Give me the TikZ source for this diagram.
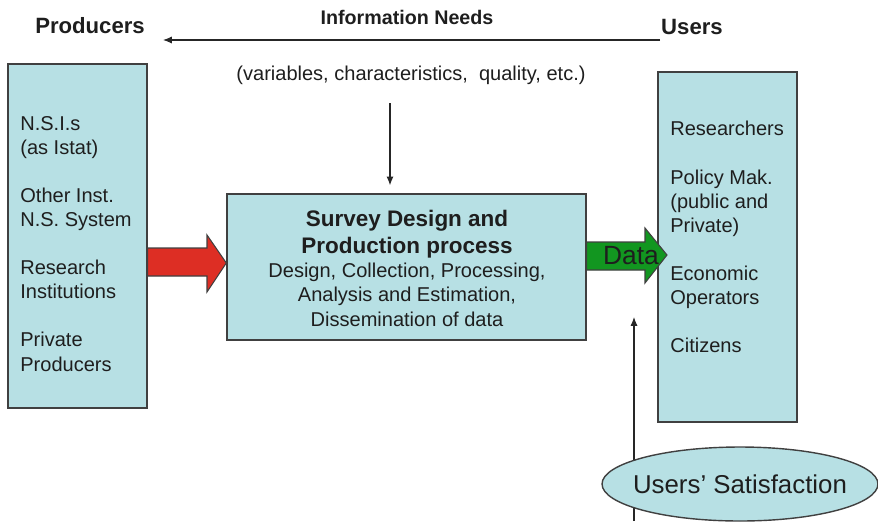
\documentclass[tikz,border=0pt]{standalone}
\usepackage{fontspec}
\setmainfont{Liberation Sans}
\usepackage{xcolor}
\usetikzlibrary{positioning,calc,shapes,arrows.meta}
\definecolor{boxblue}{RGB}{183,224,228}
\definecolor{boxline}{RGB}{64,64,64}
\definecolor{redarrow}{RGB}{221,46,36}
\definecolor{greenarrow}{RGB}{18,150,32}
\definecolor{inkgray}{RGB}{30,30,30}
\tikzset{
	actorbox/.style={draw=boxline, fill=boxblue, line width=0.8pt, minimum width=2.78cm, inner sep=0pt},
	listtext/.style={align=left, anchor=north west, inner sep=0pt, font=\fontsize{11.4}{13.7}\selectfont, text=inkgray},
	headtext/.style={font=\fontsize{12.6}{15}\selectfont\bfseries, text=inkgray, inner sep=0pt},
	thinarrow/.style={draw=black!85, line width=0.6pt, -{Latex[length=5pt,width=4pt]}},
	blockarrow/.style={draw=boxline, line width=0.6pt, line join=miter}
}

\begin{document}
\begin{tikzpicture}[x=0.02cm, y=-0.02cm]
			\useasboundingbox (0,0) rectangle (878,521);
			\node[headtext] (producers) at (90,26) {Producers};
			\node[headtext] (users) at (692,27) {Users};
			\node[headtext, font=\fontsize{11.2}{13}\selectfont\bfseries] (needs) at (407,17) {Information Needs};
			\node[listtext, anchor=center] (needsdetail) at (411,75) {(variables, characteristics,\ \ quality, etc.)};
			\coordinate (needsR) at (660,40);
			\coordinate (needsL) at (163,40);
			\draw[thinarrow] (needsR) -- (needsL);
			\node[actorbox, minimum height=6.88cm] (prod) at (77.5,236) {};
			\node[actorbox, minimum height=7.0cm] (user) at (727.5,247) {};
			\node[actorbox, minimum width=7.18cm, minimum height=2.92cm] (proc) at (406.5,267) {};
			\node[listtext] (prodlist) at (20,116) {N.S.I.s\\(as Istat)\\[13.7pt]Other Inst.\\N.S. System\\[13.7pt]Research\\Institutions\\[13.7pt]Private\\Producers};
			\node[listtext] (userlist) at (670,121) {Researchers\\[13.7pt]Policy Mak.\\(public and\\Private)\\[13.7pt]Economic\\Operators\\[13.7pt]Citizens};
			\node[headtext, font=\fontsize{12.8}{15.4}\selectfont\bfseries, align=center, anchor=north] (proctitle) at (407,210) {Survey Design and\\Production process};
			\node[listtext, align=center, anchor=north] (procbody) at (407,263) {Design, Collection, Processing,\\Analysis and Estimation,\\Dissemination of data};
			\draw[thinarrow] ($(proc.north)+(-16.5,-90)$) -- ($(proc.north)+(-16.5,-8)$);
			\filldraw[blockarrow, fill=redarrow] (prod.east |- 0,248) -- (207,248) -- (207,235) -- (proc.west |- 0,263) -- (207,292) -- (207,276) -- (prod.east |- 0,276) -- cycle;
			\filldraw[blockarrow, fill=greenarrow] (proc.east |- 0,242) -- (645,242) -- (645,228) -- (667,255) -- (645,283) -- (645,270) -- (proc.east |- 0,270) -- cycle;
			\node[font=\fontsize{15}{18}\selectfont, text=inkgray, inner sep=0pt] (data) at (631,256) {Data};
			\coordinate (satfoot) at (634,521);
			\draw[thinarrow] (satfoot) -- (634,317);
			\node[draw=boxline, fill=boxblue, ellipse, line width=0.8pt, minimum width=5.52cm, minimum height=1.48cm, inner sep=0pt] (satisf) at (740,484) {};
			\node[font=\fontsize{14.7}{17}\selectfont, text=inkgray, inner sep=0pt] (satisftext) at (satisf) {Users' Satisfaction};
		\end{tikzpicture}
\end{document}
